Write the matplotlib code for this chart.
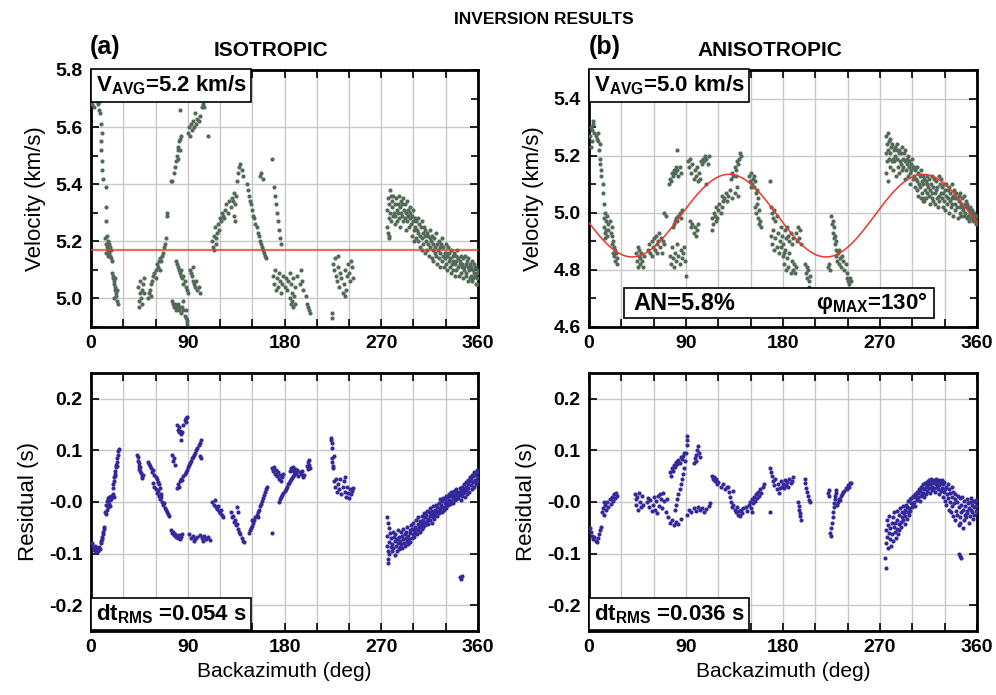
import numpy as np
import matplotlib
matplotlib.use('Agg')
import matplotlib.pyplot as plt
from matplotlib import font_manager
from matplotlib.patches import Rectangle
from matplotlib.ticker import MultipleLocator

# narrow bold face for ticks if one is installed
_names = {f.name for f in font_manager.fontManager.ttflist}
_narrow = [n for n in ('Liberation Sans Narrow', 'Nimbus Sans Narrow', 'Arial Narrow') if n in _names]
TICK_FAMILY = _narrow + ['Liberation Sans', 'DejaVu Sans']
TEXT_FAMILY = ['Liberation Sans', 'DejaVu Sans']

plt.rcParams['font.family'] = TEXT_FAMILY
plt.rcParams['mathtext.fontset'] = 'custom'
plt.rcParams['mathtext.rm'] = 'Liberation Sans'
plt.rcParams['mathtext.bf'] = 'Liberation Sans:bold'

# ---- data (backazimuth deg, value) ----
iso_vel = [
    (0.5, 5.68), (1.5, 5.70), (2.5, 5.67), (3.5, 5.71), (4.5, 5.69), (5.5, 5.70), (6.5, 5.68), (7.5, 5.66), (1, 5.72), (8, 5.69),
    (8.4, 5.65), (9.3, 5.61), (9.9, 5.58), (9.3, 5.55), (9.0, 5.52), (9.9, 5.48), (10.5, 5.45), (11, 5.42), (13.6, 5.39), (13.6, 5.32), (13.6, 5.27),
    (13, 5.21), (14, 5.19), (14.5, 5.22), (15, 5.18), (15.5, 5.20), (16, 5.17), (16.5, 5.19), (17, 5.16), (17.5, 5.18), (18, 5.15),
    (18.5, 5.17), (19, 5.14), (14, 5.16), (16, 5.15), (19.5, 5.13),
    (19.5, 5.09), (20, 5.07), (20.5, 5.08), (21, 5.05), (21.5, 5.06), (22, 5.03), (22.5, 5.04), (23, 5.01), (23.5, 5.02), (24, 4.99),
    (21, 5.00), (22, 5.07), (25, 4.98), (24.5, 5.03),
    (44, 5.04), (45, 4.99), (45.5, 5.02), (46, 5.06), (46.5, 5.00), (47, 5.03), (47.5, 4.98), (48, 5.05), (49, 5.02), (49.5, 5.07), (45, 4.97),
    (53, 5.00), (54, 5.02), (55, 5.03), (56, 5.05), (57, 5.06), (58, 5.08), (59, 5.09), (60, 5.10), (61, 5.12), (62, 5.11), (63, 5.13),
    (64, 5.14), (65, 5.13), (66, 5.15), (67, 5.16), (68, 5.18), (69, 5.19), (70, 5.21), (70.5, 5.29), (71, 5.30), (56, 5.01), (60, 5.07), (64, 5.10),
    (74.5, 5.41), (75.5, 5.41), (77, 5.44), (78, 5.46), (79, 5.48), (80, 5.50), (80.5, 5.52), (81, 5.53), (82, 5.55), (83, 5.56), (84, 5.57),
    (82.8, 5.66), (81, 5.49), (83, 5.52),
    (79.5, 5.13), (80, 5.12), (81, 5.11), (82, 5.10), (83, 5.09), (84, 5.08), (85, 5.07), (86, 5.05), (87, 5.06), (88, 5.04), (89, 5.03),
    (90, 5.02), (84, 5.10), (86, 5.08),
    (75, 4.99), (76, 4.98), (77, 4.97), (78, 4.98), (79, 4.96), (80, 4.97), (81, 4.98), (82, 4.96), (83, 4.97), (84, 4.95), (85, 4.97),
    (86, 4.96), (87, 4.94), (88, 4.93), (89, 4.92), (89.5, 4.91), (88, 4.96), (86, 4.99),
    (90.5, 5.58), (91.5, 5.60), (92.5, 5.57), (93, 5.61), (94, 5.59), (95, 5.62), (96, 5.60), (96.7, 5.65), (97.5, 5.61), (99, 5.63),
    (100, 5.62), (101, 5.64), (103, 5.67), (104, 5.68), (105, 5.67), (109, 5.57),
    (92, 5.10), (93, 5.09), (94, 5.08), (95, 5.06), (96, 5.05), (97, 5.04), (98, 5.06), (99, 5.03), (100, 5.04), (101, 5.02), (95, 5.11),
    (113, 5.20), (113.5, 5.18), (114, 5.22), (114.5, 5.17), (115, 5.25), (116, 5.21), (116, 5.19), (117, 5.23), (118, 5.26), (119, 5.24),
    (120, 5.28), (121, 5.27), (122, 5.30), (123, 5.29), (124, 5.28), (125, 5.31), (126, 5.33), (127, 5.30), (128, 5.34),
    (130, 5.32), (131, 5.35), (132, 5.34), (133, 5.37), (134, 5.33), (135, 5.36), (136, 5.41), (137, 5.44), (138, 5.46), (139, 5.47),
    (140, 5.45), (141, 5.43), (133, 5.29), (134, 5.27),
    (145, 5.40), (146, 5.38), (147, 5.36), (148, 5.34), (149, 5.33), (150, 5.31), (151, 5.29), (152, 5.28), (153, 5.26), (154, 5.25),
    (155, 5.23), (156, 5.22), (157, 5.20), (158, 5.19), (159, 5.18), (160, 5.17), (161, 5.16), (162, 5.15), (163, 5.14),
    (157, 5.43), (158, 5.44), (160, 5.42), (168, 5.49),
    (170, 5.39), (171, 5.36), (172, 5.33), (173, 5.30), (174, 5.27), (175, 5.24), (176, 5.21), (176.5, 5.19),
    (169, 5.08), (170, 5.05), (171, 5.10), (172, 5.03), (173, 5.07), (174, 5.04), (175, 5.09), (176, 5.06), (177, 5.02), (178, 5.05),
    (179, 5.08), (180, 5.04), (181, 5.07), (182, 5.03), (183, 5.06), (185, 5.09), (186, 5.05), (187, 5.02), (188, 5.07), (190, 5.04),
    (192, 5.08), (194, 5.05), (195, 5.10), (196, 5.06), (197, 5.03),
    (185, 5.00), (186, 4.98), (187, 4.99), (188, 4.97), (189, 5.01), (190, 4.98),
    (200, 5.01), (201, 4.98), (202, 4.97), (203, 4.96), (204, 4.95), (224, 4.95), (224.5, 4.93),
    (225, 5.12), (226, 5.10), (227, 5.14), (228, 5.08), (229, 5.06), (230, 5.11), (231, 5.04), (232, 5.09), (233, 5.07), (234, 5.02),
    (235, 5.05), (236, 5.10), (237, 5.03), (238, 5.08), (239, 5.12), (240, 5.09), (241, 5.06), (242, 5.13), (243, 5.11), (244, 5.07),
    (230, 5.15), (236, 5.01),
    # dense group 275-360
    (275.2, 5.31), (275.8, 5.25), (276.3, 5.35), (276.9, 5.28), (277.1, 5.33), (277.5, 5.22), (278.2, 5.30), (278.7, 5.36),
    (279.4, 5.27), (279.6, 5.32), (280.1, 5.34), (280.8, 5.29), (281.3, 5.36), (281.7, 5.30), (282.4, 5.26), (282.6, 5.33),
    (283.0, 5.29), (283.8, 5.35), (284.3, 5.31), (284.9, 5.27), (285.5, 5.33), (285.6, 5.30), (286.2, 5.36), (286.7, 5.28),
    (287.2, 5.32), (287.9, 5.25), (288.1, 5.34), (288.8, 5.30), (289.3, 5.29), (289.7, 5.33), (290.5, 5.27), (290.6, 5.35),
    (291.1, 5.31), (291.8, 5.28), (292.3, 5.33), (292.9, 5.24), (293.4, 5.30), (293.5, 5.34), (294.2, 5.27), (294.8, 5.31),
    (295.0, 5.29), (295.9, 5.25), (296.4, 5.32), (296.7, 5.28), (297.2, 5.30), (297.6, 5.26), (298.3, 5.22), (298.9, 5.29),
    (299.1, 5.27), (299.8, 5.31), (300.2, 5.24), (300.7, 5.20), (301.4, 5.28), (301.5, 5.25), (302.3, 5.21), (302.8, 5.27),
    (303.0, 5.24), (303.9, 5.28), (304.4, 5.20), (304.6, 5.23), (305.3, 5.26), (305.7, 5.18), (306.1, 5.22), (306.9, 5.25),
    (307.5, 5.21), (307.6, 5.27), (308.2, 5.17), (308.8, 5.23), (309.2, 5.19), (309.9, 5.25), (310.3, 5.22), (310.7, 5.16),
    (311.1, 5.24), (311.8, 5.20), (312.5, 5.17), (312.6, 5.23), (313.3, 5.19), (313.7, 5.22), (314.0, 5.15), (314.9, 5.21),
    (315.4, 5.18), (315.5, 5.24), (316.3, 5.20), (316.8, 5.14), (317.0, 5.22), (317.9, 5.17), (318.4, 5.19), (318.6, 5.13),
    (319.5, 5.21), (319.6, 5.16), (320.1, 5.18), (320.9, 5.23), (321.2, 5.15), (321.8, 5.19), (322.3, 5.12), (322.7, 5.17),
    (323.3, 5.20), (323.6, 5.14), (324.5, 5.18), (324.8, 5.11), (325.1, 5.16), (325.9, 5.19), (326.2, 5.13), (326.6, 5.21),
    (327.4, 5.15), (327.7, 5.18), (328.3, 5.11), (328.9, 5.16), (329.0, 5.14), (329.8, 5.19), (330.4, 5.12), (330.7, 5.16),
    (331.5, 5.10), (331.6, 5.15), (332.1, 5.18), (332.8, 5.13), (333.2, 5.16), (333.9, 5.11), (334.3, 5.14), (334.6, 5.09),
    (335.3, 5.17), (335.5, 5.12), (336.4, 5.15), (336.9, 5.10), (337.1, 5.13), (337.8, 5.16), (338.2, 5.08), (338.7, 5.12),
    (339.4, 5.15), (339.7, 5.10), (340.0, 5.13), (340.8, 5.17), (341.2, 5.11), (341.6, 5.14), (342.5, 5.08), (342.9, 5.12),
    (343.0, 5.13), (343.8, 5.09), (344.3, 5.15), (344.7, 5.11), (345.5, 5.12), (345.6, 5.07), (346.1, 5.14), (346.8, 5.10),
    (347.3, 5.11), (347.7, 5.15), (348.4, 5.08), (348.6, 5.12), (349.2, 5.09), (349.9, 5.13), (350.3, 5.06), (350.7, 5.11),
    (351.1, 5.14), (351.8, 5.10), (352.2, 5.07), (352.9, 5.12), (353.4, 5.08), (353.5, 5.11), (354.3, 5.13), (354.6, 5.06),
    (355.0, 5.10), (355.8, 5.07), (356.4, 5.12), (356.7, 5.09), (357.3, 5.08), (357.6, 5.11), (358.1, 5.05), (358.8, 5.09),
    (359.2, 5.07), (359.7, 5.10), (359.5, 5.05), (276.0, 5.23), (277.0, 5.21), (278.0, 5.38),
]

aniso_vel = [
    (1, 5.27), (2, 5.30), (2.5, 5.25), (3, 5.29), (4, 5.31), (5, 5.28), (6, 5.27), (7, 5.26), (8, 5.28), (8.5, 5.25), (1.5, 5.23),
    (9, 5.22), (10, 5.24), (3.5, 5.32),
    (10, 5.19), (10.5, 5.17), (11, 5.15), (11.5, 5.13), (12.5, 5.10), (13, 5.07), (14, 5.03),
    (13.5, 4.98), (14, 4.95), (14.5, 5.00), (15, 4.93), (15.5, 4.97), (16, 4.94), (16.5, 4.99), (17, 4.92), (17.5, 4.96), (18, 4.94),
    (19, 4.97), (20, 4.93), (21, 4.95), (15, 4.91),
    (21, 4.92), (21.5, 4.89), (22, 4.90), (22.5, 4.86), (23, 4.88), (23.5, 4.85), (24, 4.87), (24.5, 4.83), (25, 4.86), (25.5, 4.84), (26, 4.82),
    (44, 4.86), (44.5, 4.83), (45, 4.88), (45.5, 4.81), (46, 4.85), (46.5, 4.87), (47, 4.82), (47.5, 4.84), (48, 4.86), (49, 4.83),
    (50, 4.81), (51, 4.85),
    (55, 4.87), (56, 4.89), (57, 4.86), (58, 4.90), (59, 4.88), (60, 4.91), (61, 4.87), (62, 4.92), (63, 4.89), (64, 4.90), (65, 4.93),
    (66, 4.88), (67, 4.91), (68, 4.86), (69, 4.90), (70, 4.89), (58, 4.85), (63, 4.86), (70, 5.00), (71.5, 4.99),
    (75, 4.85), (76, 4.82), (77, 4.88), (78, 4.84), (79, 4.81), (80, 4.86), (81, 4.83), (82, 4.89), (83, 4.85), (84, 4.82), (85, 4.87),
    (86, 4.84), (87, 4.86), (88, 4.88), (89, 4.83), (90, 4.78),
    (78, 4.95), (79, 4.96), (80, 4.97), (81, 4.98), (82, 4.97), (83, 4.99), (84, 5.00), (85, 4.98), (86, 5.01),
    (74, 5.10), (75, 5.12), (76, 5.11), (77, 5.14), (78, 5.13), (79, 5.15), (80, 5.14), (81, 5.16), (82, 5.15), (83, 5.13), (84, 5.16),
    (85, 5.14), (82, 5.22),
    (94, 4.97), (95, 4.95), (96, 4.96), (97, 4.93), (98, 4.95), (99, 4.92), (100, 4.94), (101, 4.96),
    (92, 5.18), (93, 5.16), (94, 5.19), (95, 5.14), (96, 5.17), (97, 5.12), (98, 5.15), (99, 5.13), (100, 5.16), (101, 5.11), (102, 5.14), (103, 5.12),
    (104, 5.18), (105, 5.17), (106, 5.19), (107, 5.18), (108, 5.20), (109, 5.19), (110, 5.17), (111, 5.20), (109, 5.10),
    (114, 4.98), (115, 4.96), (116, 5.00), (117, 4.99), (118, 5.02), (119, 4.98), (120, 5.01), (121, 5.03), (122, 5.00), (123, 5.02),
    (124, 5.04), (114, 4.94), (118, 4.97),
    (123, 5.06), (125, 5.05), (127, 5.07), (129, 5.06), (131, 5.08), (133, 5.05), (135, 5.07), (137, 5.09), (138, 5.06), (128, 5.04),
    (132, 5.12), (133, 5.14), (134, 5.13), (135, 5.16), (136, 5.15), (137, 5.18), (138, 5.17), (139, 5.19), (140, 5.21), (141, 5.20), (136, 5.13),
    (148, 5.13), (149, 5.11), (150, 5.14), (151, 5.10), (152, 5.12), (153, 5.09), (154, 5.11), (155, 5.07), (156, 5.08), (157, 5.05),
    (150, 5.09), (153, 5.13),
    (154, 5.02), (155, 5.00), (156, 5.03), (157, 4.98), (158, 5.01), (159, 4.97), (160, 4.95), (158, 4.96), (168, 5.11),
    (169, 5.02), (170, 5.00), (171, 4.98), (172, 5.01), (173, 4.97), (174, 4.99),
    (169, 4.92), (170, 4.89), (171, 4.94), (172, 4.87), (173, 4.91), (174, 4.88), (175, 4.93), (176, 4.86), (177, 4.90), (178, 4.88),
    (179, 4.92), (180, 4.89), (181, 4.86), (178, 4.95),
    (182, 4.94), (183, 4.91), (184, 4.95), (185, 4.92), (186, 4.90), (187, 4.93), (188, 4.89), (189, 4.91),
    (180, 4.85), (181, 4.82), (182, 4.87), (183, 4.80), (184, 4.84), (185, 4.81), (186, 4.86), (187, 4.79), (188, 4.83), (189, 4.80),
    (190, 4.82), (191, 4.79), (192, 4.81),
    (192, 4.93), (193, 4.90), (194, 4.95), (195, 4.91), (196, 4.94), (197, 4.89),
    (200, 4.82), (201, 4.79), (202, 4.81), (202.5, 4.77), (203, 4.80), (204, 4.76), (205, 4.78), (204.5, 4.74),
    (222, 4.81), (223, 4.82), (224, 4.80),
    (225, 4.99), (225.5, 4.96), (226, 4.97), (226.5, 4.93), (227, 4.95), (227.5, 4.91), (228, 4.92), (228.5, 4.89), (229, 4.90), (229, 4.87),
    (229, 4.85), (230, 4.83), (231, 4.86), (232, 4.82), (233, 4.84), (234, 4.81), (235, 4.85), (236, 4.83), (237, 4.80), (238, 4.82),
    (239, 4.79), (232, 4.87), (239, 4.77), (240, 4.76), (241, 4.75), (242, 4.77), (243, 4.76),
    # dense group 275-360
    (275.2, 5.21), (275.8, 5.14), (276.3, 5.24), (276.9, 5.18), (277.1, 5.22), (277.5, 5.11), (278.2, 5.19), (278.7, 5.25),
    (279.4, 5.16), (279.6, 5.21), (280.1, 5.23), (280.8, 5.18), (281.3, 5.24), (281.7, 5.19), (282.4, 5.15), (282.6, 5.22),
    (283.0, 5.18), (283.8, 5.23), (284.3, 5.20), (284.9, 5.13), (285.5, 5.22), (285.6, 5.19), (286.2, 5.24), (286.7, 5.16),
    (287.2, 5.21), (287.9, 5.14), (288.1, 5.22), (288.8, 5.18), (289.3, 5.17), (289.7, 5.21), (290.5, 5.15), (290.6, 5.23),
    (291.1, 5.19), (291.8, 5.16), (292.3, 5.21), (292.9, 5.12), (293.4, 5.18), (293.5, 5.22), (294.2, 5.15), (294.8, 5.19),
    (295.0, 5.17), (295.9, 5.13), (296.4, 5.20), (296.7, 5.16), (297.2, 5.18), (297.6, 5.14), (298.3, 5.10), (298.9, 5.17),
    (299.1, 5.15), (299.8, 5.19), (300.2, 5.12), (300.7, 5.16), (301.4, 5.16), (301.5, 5.13), (302.3, 5.09), (302.8, 5.15),
    (303.0, 5.12), (303.9, 5.16), (304.4, 5.08), (304.6, 5.11), (305.3, 5.14), (305.7, 5.06), (306.1, 5.10), (306.9, 5.13),
    (307.5, 5.09), (307.6, 5.15), (308.2, 5.05), (308.8, 5.11), (309.2, 5.07), (309.9, 5.13), (310.3, 5.10), (310.7, 5.04),
    (311.1, 5.12), (311.8, 5.08), (312.5, 5.05), (312.6, 5.11), (313.3, 5.07), (313.7, 5.10), (314.0, 5.13), (314.9, 5.09),
    (315.4, 5.06), (315.5, 5.12), (316.3, 5.08), (316.8, 5.03), (317.0, 5.10), (317.9, 5.05), (318.4, 5.13), (318.6, 5.07),
    (319.5, 5.09), (319.6, 5.04), (320.1, 5.12), (320.9, 5.07), (321.2, 5.03), (321.8, 5.08), (322.3, 5.11), (322.7, 5.05),
    (323.3, 5.09), (323.6, 5.02), (324.5, 5.13), (324.8, 5.06), (325.1, 5.04), (325.9, 5.10), (326.2, 5.07), (326.6, 5.12),
    (327.4, 5.05), (327.7, 5.09), (328.3, 5.02), (328.9, 5.07), (329.0, 5.10), (329.8, 5.04), (330.4, 5.08), (330.7, 5.01),
    (331.5, 5.06), (331.6, 5.10), (332.1, 5.03), (332.8, 5.08), (333.2, 5.05), (333.9, 5.00), (334.3, 5.09), (334.6, 5.04),
    (335.3, 5.07), (335.5, 5.02), (336.4, 5.05), (336.9, 5.10), (337.1, 5.03), (337.8, 5.06), (338.2, 4.99), (338.7, 5.08),
    (339.4, 5.05), (339.7, 5.01), (340.0, 5.03), (340.8, 5.07), (341.2, 5.02), (341.6, 5.05), (342.5, 4.98), (342.9, 5.06),
    (343.0, 5.04), (343.8, 5.00), (344.3, 5.07), (344.7, 5.02), (345.5, 5.03), (345.6, 4.99), (346.1, 5.05), (346.8, 5.01),
    (347.3, 5.02), (347.7, 5.06), (348.4, 4.99), (348.6, 5.03), (349.2, 5.00), (349.9, 5.04), (350.3, 4.98), (350.7, 5.02),
    (351.1, 5.03), (351.8, 4.99), (352.2, 5.01), (352.9, 4.97), (353.4, 5.00), (353.5, 5.02), (354.3, 4.98), (354.6, 5.01),
    (355.0, 4.99), (355.8, 5.01), (356.4, 4.97), (356.7, 5.00), (357.3, 4.98), (357.6, 5.00), (358.1, 4.97), (358.8, 4.99),
    (359.2, 4.97), (359.7, 4.99), (359.5, 4.96), (276.0, 5.27), (277.2, 5.28), (279.0, 5.26), (310.0, 5.04), (311.0, 5.05),
]

iso_res = [
    (0.5, -0.080), (1.5, -0.088), (2.5, -0.094), (3.5, -0.085), (4.5, -0.097), (5.5, -0.090), (6.5, -0.095), (7.5, -0.088), (8.5, -0.092), (9, -0.080),
    (9.5, -0.075), (10, -0.068), (10.5, -0.072), (11, -0.062), (11.5, -0.058), (12, -0.052), (12.5, -0.048),
    (13, -0.020), (14, -0.005), (14.5, -0.015), (15, 0.002), (15.5, -0.010), (16, 0.008), (16.5, -0.004), (17, 0.010), (17.5, 0.003),
    (18, -0.008), (18.5, 0.012), (19, 0.005), (20, 0.015), (21, 0.010), (14, -0.024),
    (20, 0.028), (20.5, 0.035), (21, 0.040), (21.5, 0.048), (22, 0.055), (22.5, 0.060), (23, 0.067), (23.5, 0.072), (24, 0.078),
    (24.5, 0.085), (25, 0.092), (25.5, 0.098), (26, 0.102), (22, 0.050), (24, 0.070),
    (43, 0.092), (43.5, 0.088), (44, 0.080), (44.5, 0.075), (45, 0.070), (45.5, 0.068), (46, 0.060), (46.5, 0.056), (47, 0.050),
    (47.5, 0.046), (48, 0.052), (45, 0.064),
    (53, 0.078), (54, 0.074), (55, 0.070), (56, 0.066), (57, 0.058), (58, 0.062), (59, 0.052), (60, 0.048), (61, 0.044), (62, 0.038),
    (63, 0.034), (64, 0.028),
    (58, 0.036), (59, 0.030), (60, 0.025), (61, 0.018), (62, 0.022), (63, 0.012), (64, 0.006), (65, 0.010), (66, 0.000), (67, -0.006),
    (68, -0.002), (69, -0.012), (70, -0.016), (71, -0.020), (72, -0.024), (73, -0.027), (65, 0.015),
    (74, -0.055), (75, -0.060), (76, -0.058), (77, -0.064), (78, -0.062), (79, -0.068), (80, -0.066), (81, -0.070), (82, -0.064),
    (83, -0.072), (84, -0.068), (85, -0.062),
    (80, 0.150), (81, 0.140), (81.5, 0.145), (82, 0.135), (83, 0.138), (84, 0.132), (85, 0.136), (86, 0.150), (87, 0.158), (88, 0.162),
    (88.5, 0.155), (89, 0.165), (84, 0.120),
    (75, 0.092), (76, 0.080), (77, 0.085), (78, 0.072),
    (80, 0.028), (81, 0.034), (82, 0.030), (83, 0.040), (84, 0.045), (85, 0.042), (86, 0.050), (87, 0.055), (88, 0.058), (89, 0.062),
    (90, 0.068), (91, 0.072), (92, 0.075), (93, 0.080), (94, 0.085), (95, 0.088), (96, 0.092), (97, 0.095), (98, 0.100), (99, 0.105),
    (100, 0.110), (101, 0.115), (102, 0.120), (101.5, 0.090), (102, 0.085),
    (91, -0.062), (93, -0.070), (95, -0.066), (97, -0.072), (99, -0.068), (101, -0.064), (103, -0.070), (105, -0.066), (107, -0.072),
    (109, -0.068), (111, -0.074), (96, -0.076), (104, -0.076),
    (113, 0.000), (114, -0.005), (115, 0.004), (116, -0.010), (117, -0.014), (118, -0.008), (119, -0.018), (120, -0.022), (121, -0.016),
    (122, -0.026), (123, -0.030),
    (130, -0.020), (131, -0.030), (132, -0.028), (133, -0.038), (134, -0.035), (135, -0.045), (136, -0.042), (137, -0.052), (138, -0.058),
    (139, -0.062), (140, -0.070), (141, -0.075), (142, -0.078), (136, -0.010), (137, -0.020),
    (147, -0.060), (148, -0.055), (149, -0.050), (150, -0.046), (151, -0.040), (152, -0.035), (153, -0.030), (154, -0.025), (155, -0.020),
    (156, -0.015), (157, -0.008), (158, -0.004), (159, 0.002), (160, 0.008), (161, 0.014), (162, 0.020), (163, 0.026), (164, 0.030),
    (150, -0.035), (155, -0.030), (168, -0.060),
    (168, 0.065), (169, 0.060), (170, 0.068), (171, 0.055), (172, 0.062), (173, 0.050), (174, 0.058), (175, 0.045), (176, 0.052),
    (177, 0.040), (178, 0.048), (179, 0.055),
    (175, 0.000), (176, 0.006), (177, 0.010), (178, 0.014), (179, 0.018), (180, 0.022), (181, 0.025), (182, 0.030), (183, 0.034),
    (184, 0.037), (185, 0.040), (186, 0.044), (187, 0.046), (188, 0.050), (189, 0.053),
    (185, 0.060), (186, 0.066), (187, 0.062), (188, 0.068), (189, 0.058), (190, 0.064), (191, 0.056), (192, 0.062), (193, 0.050),
    (194, 0.058), (195, 0.054), (196, 0.060), (197, 0.048), (198, 0.052),
    (201, 0.070), (201.5, 0.078), (202, 0.064), (202.5, 0.082), (203, 0.072), (204, 0.066),
    (223, 0.120), (223.5, 0.125), (224, 0.115), (224.5, 0.105), (224, 0.085), (224.5, 0.078), (225, 0.070), (225.5, 0.066), (226, 0.090),
    (226, 0.040), (227, 0.030), (228, 0.045), (229, 0.020), (230, 0.035), (231, 0.025), (232, 0.045), (233, 0.015), (234, 0.030),
    (235, 0.040), (236, 0.020), (237, 0.010), (238, 0.030), (239, 0.018), (240, 0.008), (241, 0.025), (242, 0.015), (243, 0.022),
    (244, 0.028), (236, 0.048),
    # dense group 275-360
    (275.2, -0.065), (275.8, -0.085), (276.3, -0.095), (276.9, -0.050), (277.1, -0.078), (277.5, -0.100), (278.2, -0.060), (278.7, -0.088),
    (279.4, -0.070), (279.6, -0.095), (280.1, -0.082), (280.8, -0.058), (281.3, -0.090), (281.7, -0.068), (282.4, -0.102), (282.6, -0.076),
    (283.0, -0.062), (283.8, -0.085), (284.3, -0.072), (284.9, -0.095), (285.5, -0.080), (285.6, -0.055), (286.2, -0.092), (286.7, -0.068),
    (287.2, -0.075), (287.9, -0.088), (288.1, -0.058), (288.8, -0.082), (289.3, -0.066), (289.7, -0.090), (290.5, -0.072), (290.6, -0.052),
    (291.1, -0.080), (291.8, -0.062), (292.3, -0.085), (292.9, -0.070), (293.4, -0.058), (293.5, -0.076), (294.2, -0.048), (294.8, -0.082),
    (295.0, -0.065), (295.9, -0.072), (296.4, -0.055), (296.7, -0.078), (297.2, -0.060), (297.6, -0.045), (298.3, -0.070), (298.9, -0.052),
    (299.1, -0.062), (299.8, -0.040), (300.2, -0.055), (300.7, -0.068), (301.4, -0.048), (301.5, -0.060), (302.3, -0.035), (302.8, -0.052),
    (303.0, -0.062), (303.9, -0.042), (304.4, -0.055), (304.6, -0.030), (305.3, -0.048), (305.7, -0.058), (306.1, -0.036), (306.9, -0.045),
    (307.5, -0.028), (307.6, -0.052), (308.2, -0.040), (308.8, -0.048), (309.2, -0.035), (309.9, -0.022), (310.3, -0.045), (310.7, -0.030),
    (311.1, -0.040), (311.8, -0.025), (312.5, -0.036), (312.6, -0.018), (313.3, -0.032), (313.7, -0.042), (314.0, -0.020), (314.9, -0.028),
    (315.4, -0.035), (315.5, -0.012), (316.3, -0.025), (316.8, -0.040), (317.0, -0.018), (317.9, -0.030), (318.4, -0.008), (318.6, -0.022),
    (319.5, -0.032), (319.6, -0.015), (320.1, -0.025), (320.9, -0.005), (321.2, -0.020), (321.8, -0.028), (322.3, -0.010), (322.7, -0.018),
    (323.3, -0.002), (323.6, -0.022), (324.5, -0.012), (324.8, 0.005), (325.1, -0.015), (325.9, -0.005), (326.2, -0.020), (326.6, 0.002),
    (327.4, -0.010), (327.7, 0.008), (328.3, -0.016), (328.9, -0.002), (329.0, 0.005), (329.8, -0.008), (330.4, 0.012), (330.7, -0.012),
    (331.5, 0.000), (331.6, 0.010), (332.1, -0.006), (332.8, 0.015), (333.2, 0.004), (333.9, -0.004), (334.3, 0.012), (334.6, 0.020),
    (335.3, 0.002), (335.5, 0.016), (336.4, 0.008), (336.9, -0.002), (337.1, 0.010), (337.8, 0.022), (338.2, 0.004), (338.7, 0.014),
    (339.4, 0.018), (339.7, 0.006), (340.0, 0.025), (340.8, 0.012), (341.2, 0.008), (341.6, 0.020), (342.5, 0.014), (342.9, 0.028),
    (343.0, 0.016), (343.8, 0.004), (344.3, 0.022), (344.7, 0.030), (345.5, 0.012), (345.6, 0.026), (346.1, 0.018), (346.8, 0.034),
    (347.3, 0.020), (347.7, 0.010), (348.4, 0.030), (348.6, 0.038), (349.2, 0.024), (349.9, 0.015), (350.3, 0.035), (350.7, 0.042),
    (351.1, 0.028), (351.8, 0.020), (352.2, 0.040), (352.9, 0.048), (353.4, 0.032), (353.5, 0.045), (354.3, 0.025), (354.6, 0.052),
    (355.0, 0.038), (355.8, 0.050), (356.4, 0.030), (356.7, 0.058), (357.3, 0.042), (357.6, 0.055), (358.1, 0.035), (358.8, 0.062),
    (359.2, 0.048), (359.7, 0.058), (359.5, 0.040),
    (275.5, -0.030), (276.0, -0.040), (276.0, -0.110), (276.5, -0.118), (343.5, -0.145), (344.5, -0.150), (345.0, -0.144),
]

aniso_res = [
    (1, -0.050), (2, -0.058), (3, -0.065), (4, -0.072), (5, -0.068), (6, -0.075), (7, -0.078), (8, -0.070), (9, -0.062), (10, -0.055), (11, -0.048),
    (12, -0.020), (13, -0.012), (14, -0.025), (15, -0.005), (16, -0.015), (17, 0.000), (18, -0.010), (19, 0.005), (20, -0.004),
    (21, 0.010), (22, 0.002), (23, 0.015), (24, 0.008), (25, 0.018), (26, 0.012), (14, 0.000),
    (43, 0.015), (43.5, 0.005), (44, -0.005), (44.5, 0.010), (45, -0.015), (46, 0.018), (47, 0.000), (48, -0.010), (49, 0.012), (50, -0.005),
    (54, 0.000), (55, 0.008), (56, -0.010), (57, 0.004), (58, -0.018), (59, -0.006), (60, 0.010), (61, -0.015), (62, 0.002), (63, -0.022),
    (64, 0.012), (65, -0.008), (66, 0.015), (67, 0.005), (68, -0.012), (69, 0.018), (70, 0.002), (71, -0.020), (72, 0.006),
    (73, -0.030), (75, -0.040), (77, -0.035), (79, -0.045), (81, -0.038), (83, -0.042), (85, -0.032),
    (75, 0.058), (76, 0.050), (77, 0.066), (78, 0.060), (79, 0.072), (80, 0.068), (81, 0.078), (82, 0.074), (83, 0.082), (84, 0.076),
    (85, 0.088), (86, 0.084), (87, 0.090), (88, 0.095),
    (80, -0.015), (81, -0.005), (82, 0.005), (83, 0.015), (84, 0.025), (85, 0.035), (86, 0.045), (87, 0.055), (88, 0.065), (89, 0.080),
    (90, 0.095), (90.5, 0.110), (91, 0.120), (91, 0.128),
    (91, -0.025), (93, -0.015), (95, -0.020), (97, -0.012), (99, -0.018), (101, -0.010), (103, -0.016), (105, -0.012), (107, -0.020),
    (109, -0.014), (111, -0.008), (112, -0.002),
    (97, 0.076), (98, 0.085), (99, 0.092), (100, 0.100), (101, 0.108), (102, 0.095), (103, 0.088), (99, 0.080),
    (114, 0.050), (115, 0.045), (116, 0.048), (117, 0.040), (118, 0.044), (119, 0.035), (120, 0.038), (122, 0.030), (124, 0.034),
    (126, 0.026), (128, 0.030),
    (129, 0.030), (130, 0.020), (131, 0.010), (132, 0.000), (133, -0.010), (134, -0.005), (135, -0.015), (136, -0.020), (137, -0.010),
    (138, -0.025), (139, -0.018), (140, -0.027), (141, -0.015), (142, -0.022), (143, -0.012), (134, 0.022),
    (146, -0.010), (147, -0.018), (148, -0.005), (149, 0.000), (150, -0.012), (151, 0.005), (152, -0.002), (153, 0.010), (154, 0.002),
    (155, 0.015), (156, 0.008), (157, 0.020), (158, 0.012), (159, 0.025), (160, 0.018), (161, 0.030), (162, 0.035), (151, -0.020),
    (168, 0.065), (169, 0.058), (170, 0.050), (171, 0.040), (172, 0.032), (173, 0.045), (174, 0.025), (175, 0.035), (176, 0.018),
    (177, 0.028), (168, -0.020),
    (178, 0.040), (179, 0.030), (180, 0.035), (181, 0.028), (182, 0.042), (183, 0.032), (184, 0.038), (185, 0.030), (186, 0.044),
    (187, 0.036), (188, 0.040), (189, 0.048),
    (194, 0.000), (194.5, -0.008), (195, -0.015), (195.5, -0.022), (196, -0.028), (196.5, -0.034),
    (200, 0.044), (200.5, 0.036), (201, 0.028), (202, 0.020), (203, 0.012), (204, 0.004), (205, 0.000),
    (222, 0.018), (223, 0.012), (222.5, 0.024),
    (224, -0.060), (224.5, -0.066), (225, -0.050), (225.5, -0.040), (226, -0.030), (226.5, -0.020), (227, -0.010), (227.5, -0.002),
    (228, 0.006), (228.5, 0.012), (229, 0.018), (229.5, 0.024),
    (230, -0.005), (231, 0.000), (232, 0.006), (233, 0.004), (234, 0.012), (235, 0.015), (236, 0.020), (237, 0.022), (238, 0.028),
    (239, 0.025), (240, 0.032), (241, 0.030), (242, 0.036), (243, 0.037),
    # dense group 275-360
    (275.2, -0.055), (275.8, -0.080), (276.3, -0.035), (276.9, -0.068), (277.1, -0.045), (277.5, -0.090), (278.2, -0.060), (278.7, -0.028),
    (279.4, -0.072), (279.6, -0.050), (280.1, -0.085), (280.8, -0.040), (281.3, -0.062), (281.7, -0.030), (282.4, -0.075), (282.6, -0.048),
    (283.0, -0.020), (283.8, -0.058), (284.3, -0.040), (284.9, -0.070), (285.5, -0.035), (285.6, -0.052), (286.2, -0.018), (286.7, -0.062),
    (287.2, -0.042), (287.9, -0.025), (288.1, -0.055), (288.8, -0.012), (289.3, -0.038), (289.7, -0.048), (290.5, -0.020), (290.6, -0.030),
    (291.1, -0.008), (291.8, -0.035), (292.3, -0.022), (292.9, -0.042), (293.4, -0.015), (293.5, -0.028), (294.2, -0.005), (294.8, -0.032),
    (295.0, -0.010), (295.9, -0.020), (296.4, 0.002), (296.7, -0.025), (297.2, -0.012), (297.6, 0.005), (298.3, -0.018), (298.9, -0.002),
    (299.1, 0.008), (299.8, -0.010), (300.2, 0.012), (300.7, -0.004), (301.4, 0.010), (301.5, 0.000), (302.3, 0.016), (302.8, -0.008),
    (303.0, 0.014), (303.9, 0.004), (304.4, 0.020), (304.6, 0.008), (305.3, 0.018), (305.7, 0.010), (306.1, 0.025), (306.9, 0.002),
    (307.5, 0.022), (307.6, 0.012), (308.2, 0.030), (308.8, 0.016), (309.2, 0.028), (309.9, 0.018), (310.3, 0.034), (310.7, 0.010),
    (311.1, 0.025), (311.8, 0.036), (312.5, 0.015), (312.6, 0.030), (313.3, 0.038), (313.7, 0.022), (314.0, 0.032), (314.9, 0.040),
    (315.4, 0.028), (315.5, 0.042), (316.3, 0.018), (316.8, 0.035), (317.0, 0.044), (317.9, 0.030), (318.4, 0.038), (318.6, 0.024),
    (319.5, 0.036), (319.6, 0.042), (320.1, 0.028), (320.9, 0.040), (321.2, 0.020), (321.8, 0.034), (322.3, 0.044), (322.7, 0.030),
    (323.3, 0.038), (323.6, 0.025), (324.5, 0.042), (324.8, 0.015), (325.1, 0.032), (325.9, 0.040), (326.2, 0.022), (326.6, 0.036),
    (327.4, 0.028), (327.7, 0.042), (328.3, 0.010), (328.9, 0.034), (329.0, 0.020), (329.8, 0.038), (330.4, 0.002), (330.7, 0.026),
    (331.5, 0.030), (331.6, -0.005), (332.1, 0.015), (332.8, 0.035), (333.2, 0.008), (333.9, -0.015), (334.3, 0.025), (334.6, 0.000),
    (335.3, 0.018), (335.5, -0.020), (336.4, 0.030), (336.9, -0.008), (337.1, 0.010), (337.8, -0.028), (338.2, 0.020), (338.7, -0.002),
    (339.4, 0.005), (339.7, -0.035), (340.0, 0.015), (340.8, -0.018), (341.2, 0.000), (341.6, -0.025), (342.5, 0.012), (342.9, -0.045),
    (343.0, -0.010), (343.8, 0.008), (344.3, -0.030), (344.7, -0.040), (345.5, -0.005), (345.6, -0.020), (346.1, 0.010), (346.8, -0.050),
    (347.3, -0.015), (347.7, 0.002), (348.4, -0.035), (348.6, -0.025), (349.2, -0.008), (349.9, -0.030), (350.3, 0.005), (350.7, -0.018),
    (351.1, -0.022), (351.8, -0.002), (352.2, -0.040), (352.9, -0.012), (353.4, 0.000), (353.5, -0.028), (354.3, -0.015), (354.6, 0.008),
    (355.0, -0.020), (355.8, -0.005), (356.4, -0.032), (356.7, 0.002), (357.3, -0.010), (357.6, -0.025), (358.1, 0.000), (358.8, -0.018),
    (359.2, -0.008), (359.7, -0.020), (359.5, 0.004),
    (275.0, -0.108), (276.0, -0.127), (343.0, -0.100), (344.0, -0.105), (345.0, -0.108),
]

v_iso = 5.17          # isotropic average velocity (red line)
v_avg_aniso = 4.99    # anisotropic model average
an_pct = 5.8          # anisotropy, %
phi_max = 130.0       # fast direction, deg

GREEN = '#536a58'
BLUE = '#33299a'
RED = '#e8392a'

fig = plt.figure(figsize=(9.96, 6.95), dpi=100)
ax_tl = fig.add_axes([0.0914, 0.5295, 0.3885, 0.3698])
ax_tr = fig.add_axes([0.5914, 0.5295, 0.3895, 0.3698])
ax_bl = fig.add_axes([0.0914, 0.0921, 0.3885, 0.3712])
ax_br = fig.add_axes([0.5914, 0.0921, 0.3895, 0.3712])

tick_font = dict(family=TICK_FAMILY, weight='bold', size=14)


def style_axes(ax):
    ax.set_xlim(0, 360)
    ax.set_xticks(range(0, 361, 30))
    ax.set_xticklabels([str(t) if t % 90 == 0 else '' for t in range(0, 361, 30)], fontdict=tick_font)
    ax.grid(True, which='major', color='#c8c8c8', linewidth=1.0)
    ax.set_axisbelow(True)
    ax.tick_params(which='both', direction='in', top=True, right=True, length=6, width=1.2, pad=6)
    ax.tick_params(which='minor', length=5)
    for s in ax.spines.values():
        s.set_linewidth(2.0)


for ax in (ax_tl, ax_tr, ax_bl, ax_br):
    style_axes(ax)

# velocity panels
pts = np.array(iso_vel)
ax_tl.scatter(pts[:, 0], pts[:, 1], s=9, color=GREEN, linewidths=0, zorder=3)
ax_tl.axhline(v_iso, color=RED, linewidth=1.6, alpha=0.75, zorder=4)
ax_tl.set_ylim(4.9, 5.8)
ax_tl.set_yticks([5.0, 5.2, 5.4, 5.6, 5.8])
ax_tl.set_yticklabels(['5.0', '5.2', '5.4', '5.6', '5.8'], fontdict=tick_font)
ax_tl.yaxis.set_minor_locator(MultipleLocator(0.1))

pts = np.array(aniso_vel)
ax_tr.scatter(pts[:, 0], pts[:, 1], s=9, color=GREEN, linewidths=0, zorder=3)
baz = np.linspace(0, 360, 721)
model = v_avg_aniso * (1 + an_pct / 200.0 * np.cos(np.radians(2 * (baz - phi_max))))
ax_tr.plot(baz, model, color=RED, linewidth=1.1, zorder=4)
ax_tr.set_ylim(4.6, 5.5)
ax_tr.set_yticks([4.6, 4.8, 5.0, 5.2, 5.4])
ax_tr.set_yticklabels(['4.6', '4.8', '5.0', '5.2', '5.4'], fontdict=tick_font)
ax_tr.yaxis.set_minor_locator(MultipleLocator(0.1))

# residual panels
for ax, data in ((ax_bl, iso_res), (ax_br, aniso_res)):
    pts = np.array(data)
    ax.scatter(pts[:, 0], pts[:, 1], s=9, color=BLUE, linewidths=0, zorder=3)
    ax.set_ylim(-0.25, 0.25)
    ax.set_yticks([-0.2, -0.1, 0.0, 0.1, 0.2])
    ax.set_yticklabels(['-0.2', '-0.1', '-0.0', '0.1', '0.2'], fontdict=tick_font)
    ax.set_xlabel('Backazimuth (deg)', fontsize=15, labelpad=4)

for ax in (ax_tl, ax_tr):
    ax.set_ylabel('Velocity (km/s)', fontsize=16, labelpad=7)
for ax in (ax_bl, ax_br):
    ax.set_ylabel('Residual (s)', fontsize=16, labelpad=7)

box = dict(boxstyle='square,pad=0.2', facecolor='white', edgecolor='black', linewidth=1.2)
txt = dict(fontsize=16, fontweight='bold', zorder=6)
ax_tl.text(0.012, 0.985, r'V$_{\mathbf{AVG}}$=5.2 km/s', transform=ax_tl.transAxes, va='top', ha='left', bbox=box, **txt)
ax_tr.text(0.012, 0.985, r'V$_{\mathbf{AVG}}$=5.0 km/s', transform=ax_tr.transAxes, va='top', ha='left', bbox=box, **txt)
ax_bl.text(0.012, 0.02, r'dt$_{\mathbf{RMS}}$ =0.054 s', transform=ax_bl.transAxes, va='bottom', ha='left', bbox=box, **txt)
ax_br.text(0.012, 0.02, r'dt$_{\mathbf{RMS}}$ =0.036 s', transform=ax_br.transAxes, va='bottom', ha='left', bbox=box, **txt)

# AN / phi box
ax_tr.add_patch(Rectangle((0.09, 0.035), 0.80, 0.117, transform=ax_tr.transAxes, facecolor='white',
                          edgecolor='black', linewidth=1.2, zorder=5))
ax_tr.text(0.115, 0.093, 'AN=5.8%', transform=ax_tr.transAxes, va='center', ha='left',
           fontsize=17, fontweight='bold', zorder=6)
ax_tr.text(0.872, 0.093, r'φ$_{\mathbf{MAX}}$=130°', transform=ax_tr.transAxes, va='center', ha='right',
           fontsize=16, fontweight='bold', zorder=6)

# titles
fig.text(0.546, 0.972, 'INVERSION RESULTS', ha='center', va='center', fontsize=12.5, fontweight='bold')
fig.text(0.090, 0.932, '(a)', ha='left', va='center', fontsize=18, fontweight='bold')
fig.text(0.591, 0.932, '(b)', ha='left', va='center', fontsize=18, fontweight='bold')
fig.text(0.272, 0.927, 'ISOTROPIC', ha='center', va='center', fontsize=15, fontweight='bold')
fig.text(0.773, 0.927, 'ANISOTROPIC', ha='center', va='center', fontsize=15, fontweight='bold')

fig.savefig('out.png', dpi=100)
